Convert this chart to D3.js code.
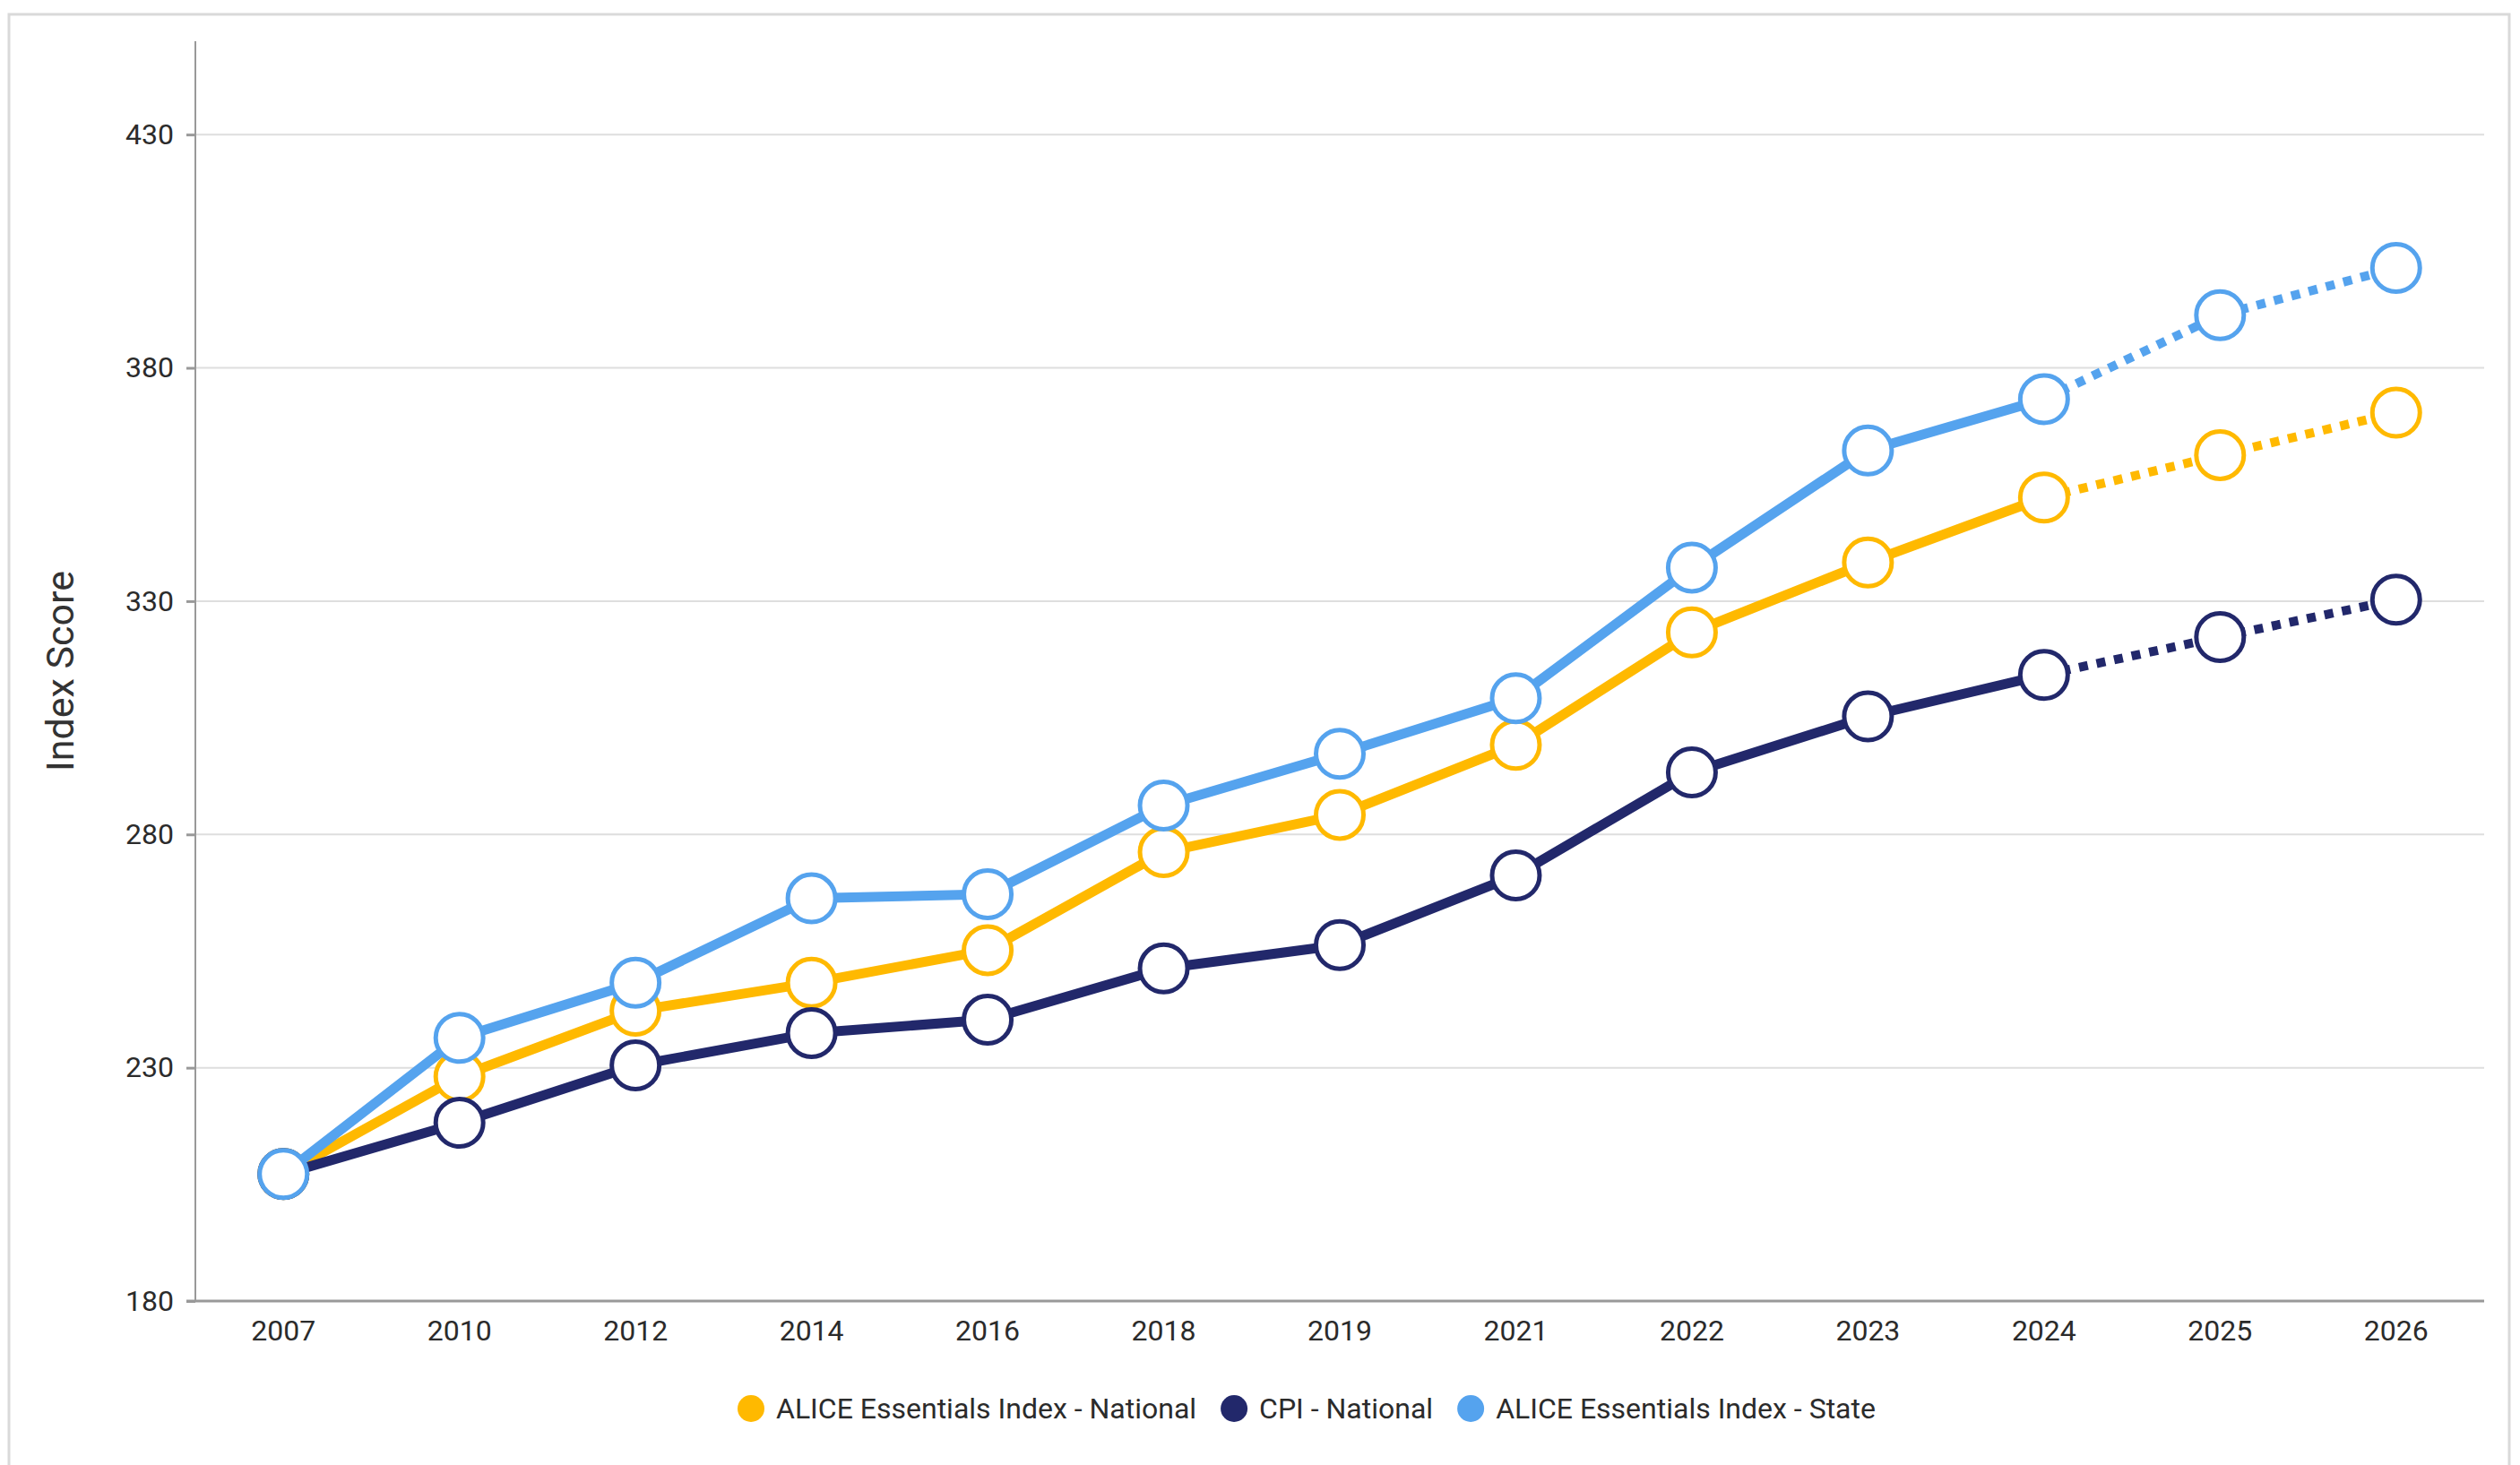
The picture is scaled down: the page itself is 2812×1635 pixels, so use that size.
<!DOCTYPE html>
<html>
<head>
<meta charset="utf-8">
<script src="https://cdn.jsdelivr.net/npm/d3@7"></script>
<style>
  html, body { margin: 0; padding: 0; background: #fff; }
  svg { display: block; }
  text { font-family: Roboto, "Liberation Sans", Arial, sans-serif; }
</style>
</head>
<body>
<svg id="chart" width="2812" height="1635"></svg>
<script>
// ---- data ----
const years = ["2007","2010","2012","2014","2016","2018","2019","2021","2022","2023","2024","2025","2026"];
const aliceNational = [207.2, 228.1, 242.2, 248.2, 255.2, 276.2, 284.2, 299.2, 323.3, 338.3, 352.2, 361.3, 370.4];
const cpiNational   = [207.2, 218.2, 230.5, 237.4, 240.3, 251.3, 256.3, 271.2, 293.3, 305.3, 314.2, 322.3, 330.3];
const aliceState    = [207.2, 236.4, 248.2, 266.3, 267.2, 286.2, 297.3, 309.2, 337.2, 362.3, 373.3, 391.3, 401.4];
const seriesNames   = ["ALICE Essentials Index - National", "CPI - National", "ALICE Essentials Index - State"];
const seriesColors  = ["#FFB900", "#22286B", "#55A3EE"];
const yTicks = [180, 230, 280, 330, 380, 430];
const yTitle = "Index Score";
const projectionStart = "2024";

const seriesValues = [aliceNational, cpiNational, aliceState];

// ---- layout ----
const svg = d3.select("#chart");
const plotLeft = 218, plotRight = 2772, plotTop = 46, plotBottom = 1452;

// frame
svg.append("rect")
  .attr("x", 10).attr("y", 16).attr("width", 2790).attr("height", 1700)
  .attr("fill", "none").attr("stroke", "#d9d9d9").attr("stroke-width", 3);

const x = d3.scaleBand().domain(years).range([plotLeft, plotRight]).paddingInner(0).paddingOuter(0);
const xc = d => x(d) + x.bandwidth() / 2;
const y = d3.scaleLinear().domain([180, 450]).range([plotBottom, plotTop]);

// gridlines
svg.append("g").selectAll("line")
  .data(yTicks.filter(t => t !== 180))
  .join("line")
  .attr("x1", plotLeft).attr("x2", plotRight)
  .attr("y1", d => y(d)).attr("y2", d => y(d))
  .attr("stroke", "#dedede").attr("stroke-width", 2);

// y axis
const yAxis = svg.append("g")
  .attr("transform", `translate(${plotLeft},0)`)
  .call(d3.axisLeft(y).tickValues(yTicks).tickSize(10).tickPadding(14).tickSizeOuter(0));
yAxis.select(".domain").attr("stroke", "#999").attr("stroke-width", 2)
  .attr("d", `M0,${plotTop}V${plotBottom}`);
yAxis.selectAll(".tick line").attr("stroke", "#999").attr("stroke-width", 3);
yAxis.selectAll(".tick text").attr("fill", "#2b2b2b").style("font-size", "32px")
  .style("font-family", "Roboto, sans-serif");

// x axis
const xAxis = svg.append("g")
  .attr("transform", `translate(0,${plotBottom})`)
  .call(d3.axisBottom(x).tickSize(0).tickPadding(21).tickSizeOuter(0));
xAxis.select(".domain").attr("stroke", "#999").attr("stroke-width", 3)
  .attr("d", `M${plotLeft - 10},0H${plotRight}`);
xAxis.selectAll(".tick text").attr("fill", "#2b2b2b").style("font-size", "32px")
  .style("font-family", "Roboto, sans-serif");

// y title
svg.append("text")
  .attr("transform", `translate(67,749) rotate(-90)`)
  .attr("text-anchor", "middle").attr("dominant-baseline", "central")
  .attr("fill", "#333").style("font-size", "43px")
  .text(yTitle);

// series
const splitIdx = years.indexOf(projectionStart);
const line = d3.line().x(d => xc(d.year)).y(d => y(d.value));

seriesValues.forEach((vals, si) => {
  const pts = years.map((yr, i) => ({ year: yr, value: vals[i] }));
  const g = svg.append("g");
  g.append("path")
    .attr("d", line(pts.slice(0, splitIdx + 1)))
    .attr("fill", "none").attr("stroke", seriesColors[si])
    .attr("stroke-width", 11).attr("stroke-linejoin", "round").attr("stroke-linecap", "round");
  g.append("path")
    .attr("d", line(pts.slice(splitIdx)))
    .attr("fill", "none").attr("stroke", seriesColors[si])
    .attr("stroke-width", 10).attr("stroke-dasharray", "10,10");
  g.selectAll("circle")
    .data(pts)
    .join("circle")
    .attr("cx", d => xc(d.year)).attr("cy", d => y(d.value))
    .attr("r", 26.5)
    .attr("fill", "#fff").attr("stroke", seriesColors[si]).attr("stroke-width", 5);
});

// legend
const legend = svg.append("g").attr("transform", "translate(0,1572)");
let cx = 838;
seriesNames.forEach((name, i) => {
  const item = legend.append("g");
  item.append("circle").attr("cx", cx).attr("cy", 0).attr("r", 15).attr("fill", seriesColors[i]);
  const t = item.append("text")
    .attr("x", cx + 28).attr("y", 0).attr("dominant-baseline", "central")
    .attr("fill", "#2b2b2b").style("font-size", "32px")
    .text(name);
  const w = t.node().getComputedTextLength();
  cx = cx + 28 + w + 42;
});
</script>
</body>
</html>
